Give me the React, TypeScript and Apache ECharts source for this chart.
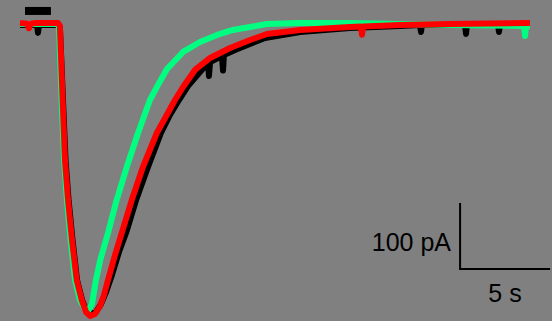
import React, { useEffect, useRef } from "react";
import * as echarts from "echarts";

// time in seconds, current in pA
const blackTime = [1.11, 2.06, 2.11, 2.17, 3.22, 3.33, 3.5, 3.64, 3.81, 4.03, 4.28, 4.56, 4.78, 5.06, 5.33, 5.61, 5.89, 6.22, 6.61, 7.0, 7.56, 8.22, 8.94, 9.44, 9.94, 10.44, 11.11, 11.56, 11.61, 11.67, 12.33, 12.39, 12.44, 13.06, 14.72, 16.67, 19.44, 22.22, 23.33, 23.39, 23.44, 25.83, 25.89, 25.94, 27.67, 27.72, 27.78, 29.44];
const blackCurrent = [-3, -3, -15, -3, -3, -7.6, -116.7, -207.6, -268.2, -328.8, -389.4, -419.7, -434.8, -440.9, -437.9, -425.8, -407.6, -381.8, -347, -318.2, -268.2, -218.2, -166.7, -139.4, -116.7, -95.5, -74.2, -60.6, -80.3, -59.1, -50, -72, -48.5, -40.9, -22.7, -13.6, -7.6, -4.5, -3, -13.6, -3, -3, -16.7, -3, -3, -13.6, -3, -1.5];

const greenTime = [1.11, 3.17, 3.28, 3.42, 3.56, 3.72, 3.92, 4.17, 4.44, 4.72, 4.89, 5.11, 5.33, 5.57, 6.0, 6.48, 7.04, 7.67, 8.33, 8.78, 9.28, 10.17, 11.11, 12.06, 12.94, 13.89, 14.83, 16.67, 19.44, 25.0, 29.11, 29.17, 29.22, 29.44];
const greenCurrent = [-1.5, -1.5, -6.1, -116.7, -207.6, -268.2, -328.8, -389.4, -419.7, -433.3, -436.4, -425.8, -389.4, -359.1, -318.2, -268.2, -218.2, -166.7, -116.7, -93.9, -69.7, -43.9, -28.8, -18.2, -10.6, -6.1, -1.5, 0, 0, -3, -4.5, -19.7, -4.5, -4.5];

const redTime = [1.11, 1.5, 1.61, 1.72, 2.0, 3.22, 3.33, 3.48, 3.61, 3.78, 4.0, 4.26, 4.54, 4.78, 5.0, 5.28, 5.56, 5.78, 6.0, 6.39, 6.76, 7.32, 7.94, 8.71, 9.11, 9.72, 10.17, 10.83, 11.67, 12.78, 13.89, 14.83, 16.67, 19.44, 20.05, 20.11, 20.17, 22.22, 25.0, 29.44];
const redCurrent = [0, -1, -8, -1, 0, 0, -4.5, -116.7, -207.6, -268.2, -328.8, -389.4, -419.7, -437.9, -443.9, -440.9, -428.8, -412.1, -389.4, -351.5, -318.2, -268.2, -218.2, -166.7, -147, -116.7, -97, -71.2, -53, -37.9, -25.8, -16.7, -10.6, -6.1, -5.5, -18, -5.5, -3, -1.5, 0];

// stimulus bar (s) and its level (pA)
const stimTime = [1.39, 2.83];
const stimLevel = 18.2;

// scale bar: 5 s, 100 pA
const scaleTime = [25.56, 25.56, 30.56];
const scaleCurrent = [-272.7, -372.7, -372.7];
const scaleLabelY = "100 pA";
const scaleLabelX = "5 s";

const zip = (t: number[], v: number[]) => t.map((x, i) => [x, v[i]]);

export default function App() {
  const ref = useRef<HTMLDivElement>(null);
  useEffect(() => {
    document.body.style.margin = "0";
    const chart = echarts.init(ref.current!, null, { renderer: "svg" });
    const trace = (name: string, color: string, t: number[], v: number[]) => ({
      name,
      type: "line",
      data: zip(t, v),
      showSymbol: false,
      symbol: "none",
      lineStyle: { color, width: 6, join: "round", cap: "butt" },
      silent: true,
    });
    const font = "25px 'Liberation Sans', Arial, sans-serif";
    chart.setOption({
      animation: false,
      backgroundColor: "#808080",
      grid: { left: 0, right: 0, top: 0, bottom: 0 },
      xAxis: { type: "value", min: 0, max: 552 / 18, show: false },
      yAxis: { type: "value", min: -451.5, max: 34.8, show: false },
      series: [
        trace("black", "#000000", blackTime, blackCurrent),
        trace("green", "#00ff80", greenTime, greenCurrent),
        trace("red", "#ff0000", redTime, redCurrent),
        {
          type: "line",
          data: stimTime.map((t) => [t, stimLevel]),
          symbol: "none",
          lineStyle: { color: "#000000", width: 8, cap: "butt" },
          silent: true,
        },
        {
          type: "line",
          data: zip(scaleTime, scaleCurrent),
          symbol: "none",
          lineStyle: { color: "#000000", width: 2, cap: "butt", join: "miter" },
          silent: true,
        },
      ],
      graphic: [
        {
          type: "text",
          x: 451,
          y: 242,
          style: {
            text: scaleLabelY,
            align: "right",
            verticalAlign: "middle",
            font,
            fill: "#000000",
          },
        },
        {
          type: "text",
          x: 505,
          y: 293,
          style: {
            text: scaleLabelX,
            align: "center",
            verticalAlign: "middle",
            font,
            fill: "#000000",
          },
        },
      ],
    });
    return () => chart.dispose();
  }, []);
  return <div ref={ref} style={{ width: 552, height: 321 }} />;
}
